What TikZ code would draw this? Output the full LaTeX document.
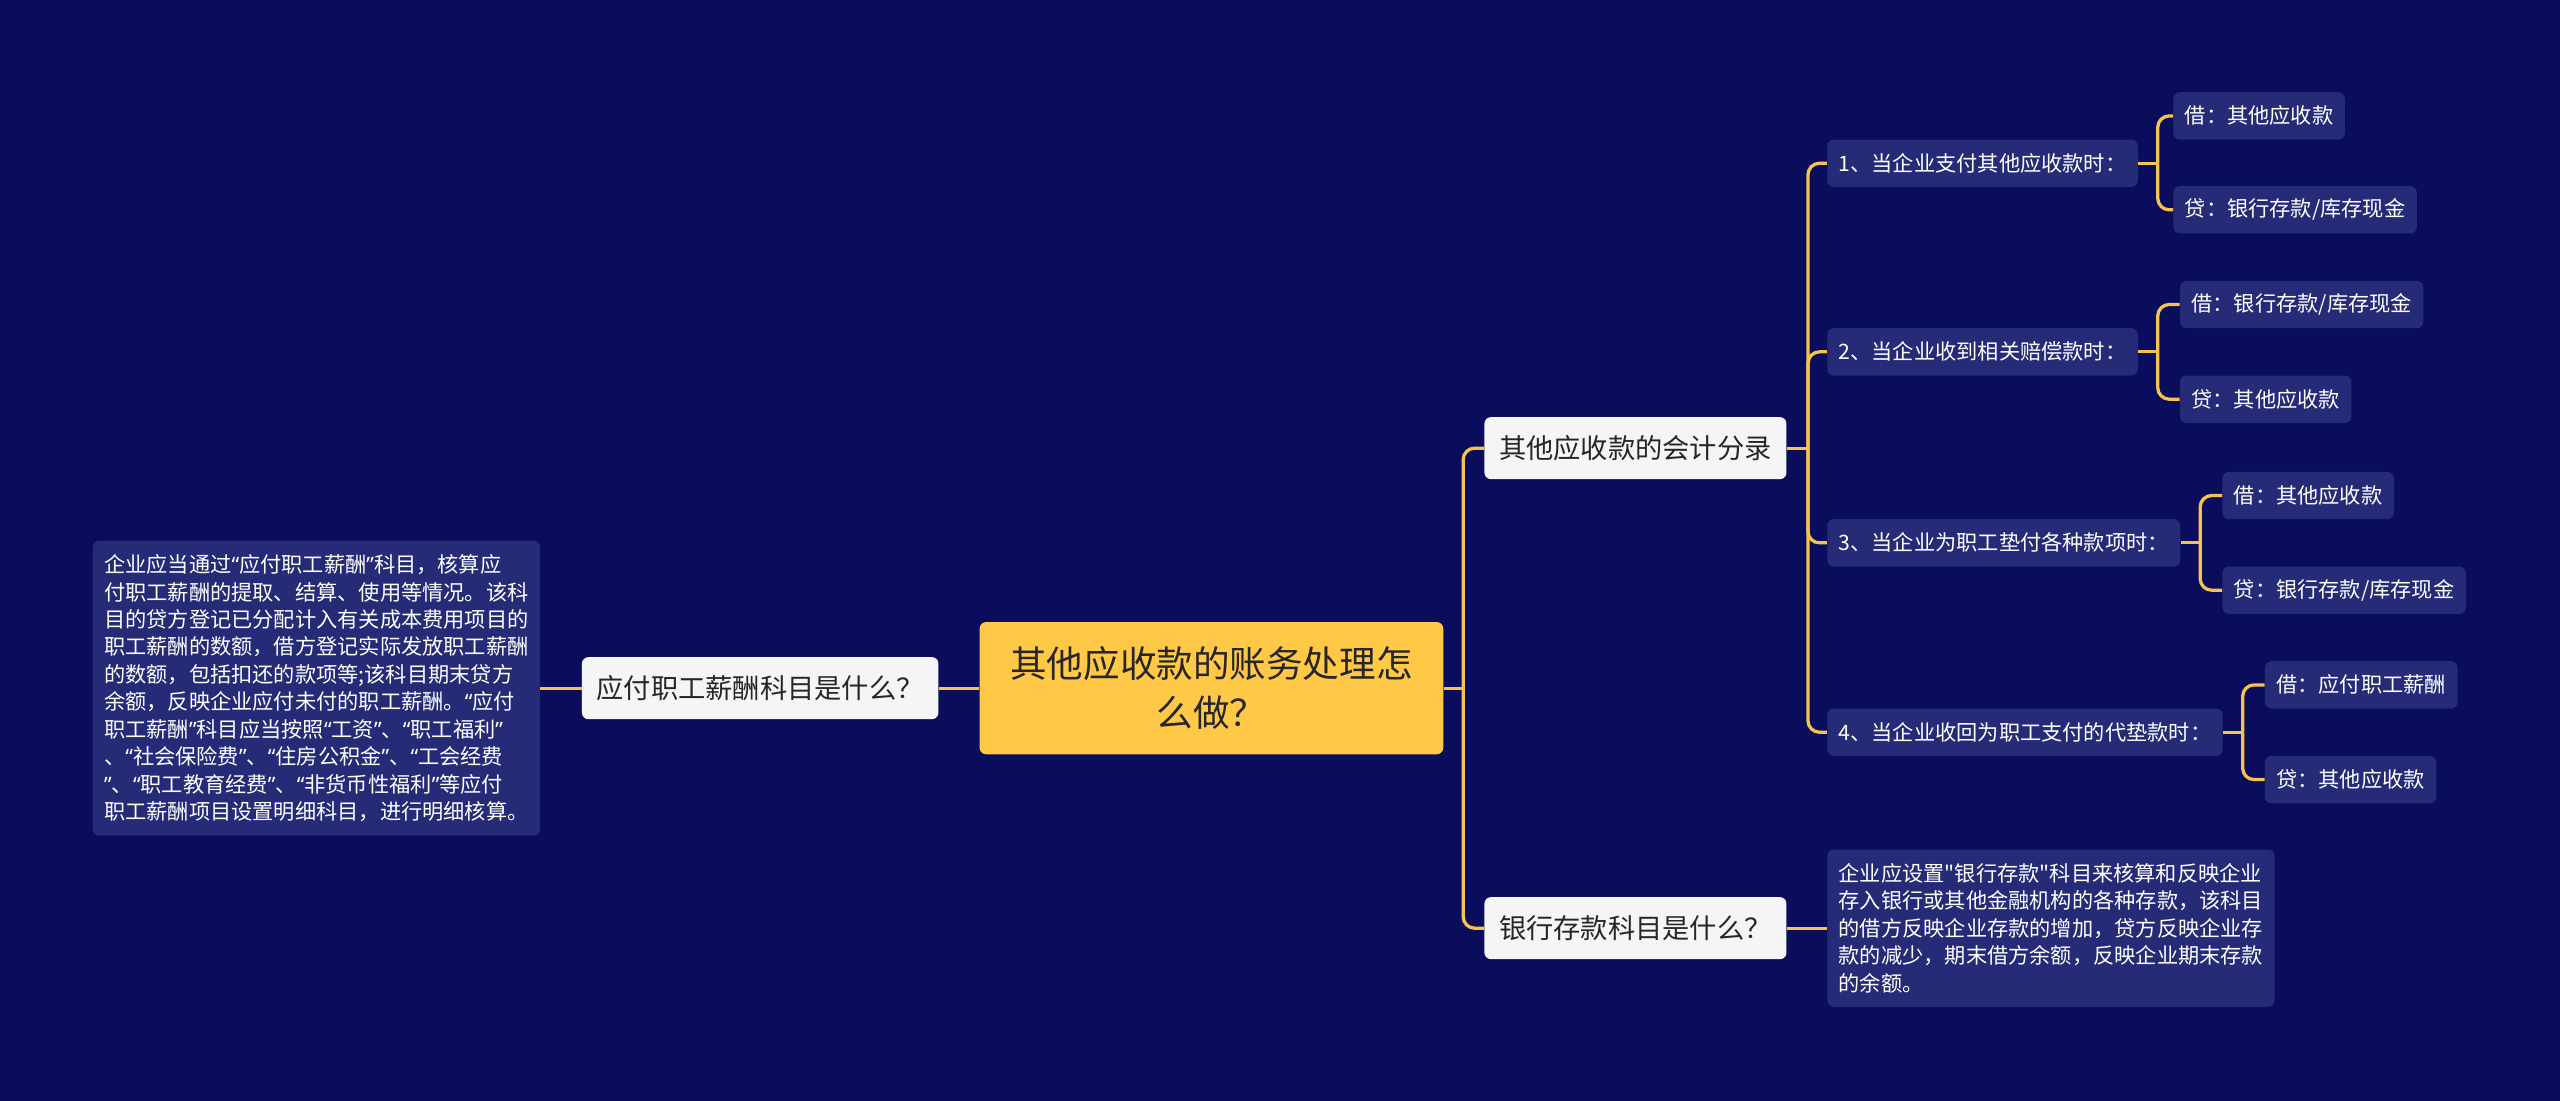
\documentclass[tikz,border=0pt]{standalone}
\usepackage{fontspec}
\newfontfamily\cjk{Noto Sans CJK SC}[Ligatures=TeXOff]
\newfontfamily\latinq{Noto Sans}
\newcommand{\qopen}{{\latinq “}}
\newcommand{\qclose}{{\latinq ”}}
\definecolor{bgnavy}{RGB}{9,13,92}
\definecolor{boxnavy}{RGB}{37,43,118}
\definecolor{rootyellow}{RGB}{255,200,70}
\definecolor{linkyellow}{RGB}{245,196,80}
\definecolor{nodewhite}{RGB}{245,245,247}
\definecolor{textdark}{RGB}{38,38,38}
\begin{document}
\begin{tikzpicture}[x=1pt,y=-1pt,
	topic/.style={fill=rootyellow,text=textdark,rounded corners=4pt,align=center,
		minimum width=284pt,minimum height=81pt,inner sep=0pt,font=\cjk\fontsize{22.4}{30}\selectfont},
	mainq/.style={fill=nodewhite,text=textdark,rounded corners=4pt,inner xsep=9pt,inner ysep=0pt,
		minimum height=38pt,font=\cjk\fontsize{16.7}{20}\selectfont},
	sub/.style={fill=boxnavy,text=white,rounded corners=4pt,inner xsep=7pt,inner ysep=0pt,
		minimum height=29pt,font=\cjk\fontsize{13}{16.8}\selectfont},
	note/.style={sub,align=left,inner ysep=8.5pt},
	link/.style={draw=linkyellow,line width=2pt,rounded corners=7pt}]
	% background
	\fill[bgnavy] (0,0) rectangle (1568,674.35);
	\useasboundingbox (0,0) rectangle (1568,674.35);
	% centre and left side
	\node[topic] (root) at (742,421.5) {其他应收款的账务处理怎\\么做？};
	\node[mainq,anchor=east] (salaryq) at (575,421.5) {应付职工薪酬科目是什么？};
	\node[note,anchor=east] (salarynote) at (331,421.5) {企业应当通过\qopen 应付职工薪酬\qclose 科目，核算应\\
		付职工薪酬的提取、结算、使用等情况。该科\\
		目的贷方登记已分配计入有关成本费用项目的\\
		职工薪酬的数额，借方登记实际发放职工薪酬\\
		的数额，包括扣还的款项等;该科目期末贷方\\
		余额，反映企业应付未付的职工薪酬。\qopen 应付\\
		职工薪酬\qclose 科目应当按照\qopen 工资\qclose 、\qopen 职工福利\qclose\\
		、\qopen 社会保险费\qclose 、\qopen 住房公积金\qclose 、\qopen 工会经费\\
		\qclose 、\qopen 职工教育经费\qclose 、\qopen 非货币性福利\qclose 等应付\\
		职工薪酬项目设置明细科目，进行明细核算。};
	% right side
	\node[mainq,anchor=west] (entries) at (909,274.5) {其他应收款的会计分录};
	\node[mainq,anchor=west] (bankq) at (909,568.5) {银行存款科目是什么？};
	\node[note,anchor=west] (banknote) at (1119,568.5) {企业应设置"银行存款"科目来核算和反映企业\\
		存入银行或其他金融机构的各种存款，该科目\\
		的借方反映企业存款的增加，贷方反映企业存\\
		款的减少，期末借方余额，反映企业期末存款\\
		的余额。};
	\node[sub,anchor=west] (case1) at (1119,100) {1、当企业支付其他应收款时：};
	\node[sub,anchor=west] (case2) at (1119,215.5) {2、当企业收到相关赔偿款时：};
	\node[sub,anchor=west] (case3) at (1119,332.5) {3、当企业为职工垫付各种款项时：};
	\node[sub,anchor=west] (case4) at (1119,448.5) {4、当企业收回为职工支付的代垫款时：};
	% debit / credit entries
	\node[sub,anchor=west] (case1dr) at (1331,71) {借：其他应收款};
	\node[sub,anchor=west] (case1cr) at (1331,128.5) {贷：银行存款/库存现金};
	\node[sub,anchor=west] (case2dr) at (1335,186.5) {借：银行存款/库存现金};
	\node[sub,anchor=west] (case2cr) at (1335,244.5) {贷：其他应收款};
	\node[sub,anchor=west] (case3dr) at (1361,303.5) {借：其他应收款};
	\node[sub,anchor=west] (case3cr) at (1361,361.5) {贷：银行存款/库存现金};
	\node[sub,anchor=west] (case4dr) at (1387,419.5) {借：应付职工薪酬};
	\node[sub,anchor=west] (case4cr) at (1387,477.5) {贷：其他应收款};
	% connectors
	\draw[link] (root.west) -- (salaryq.east);
	\draw[link] (salaryq.west) -- (salarynote.east);
	\draw[link] (root.east) -- ++(12,0) coordinate (fork0);
	\draw[link] (fork0) |- (entries.west);
	\draw[link] (fork0) |- (bankq.west);
	\draw[link] (bankq.east) -- (banknote.west);
	\draw[link] (entries.east) -- ++(13,0) coordinate (fork1);
	\foreach \i in {1,...,4}{
		\draw[link] (fork1) |- (case\i.west);
		\draw[link] (case\i.east) -- ++(12,0) coordinate (split\i);
		\draw[link] (split\i) |- (case\i dr.west);
		\draw[link] (split\i) |- (case\i cr.west);
	}
\end{tikzpicture}
\end{document}
